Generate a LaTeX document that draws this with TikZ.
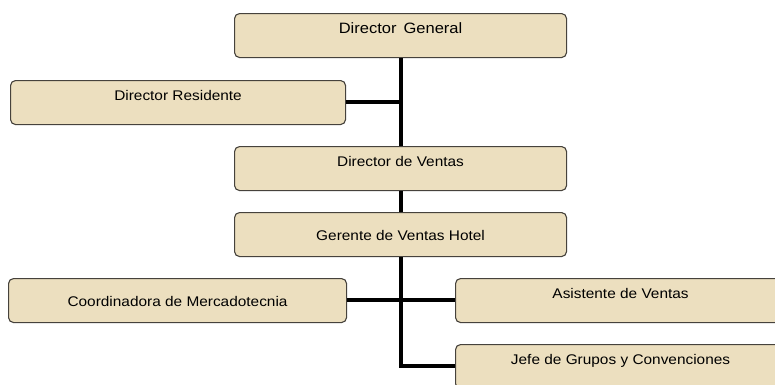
\documentclass[tikz,border=0pt]{standalone}
\usepackage{fontspec}
\setmainfont{Liberation Sans}[FakeStretch=1.1]
\definecolor{parch}{RGB}{236,223,191}
\definecolor{edge}{RGB}{70,66,60}
\begin{document}
\begin{tikzpicture}[x=1pt,y=-1pt,
  orgbox/.style={draw=edge, line width=1.1pt, fill=parch, rounded corners=5pt,
    inner sep=0pt, minimum width=#1, text height=19.5pt, text depth=24.5pt, font=\fontsize{14}{16}\selectfont},
  mid/.style={text height=28pt, text depth=16pt},
  conn/.style={line width=3.6pt}]
\clip (0,0) rectangle (775,384);
\fill[white] (0,0) rectangle (775,384);
\node[orgbox=332pt, anchor=north west, font=\fontsize{15}{17}\selectfont] (dg) at (234,13) {Director\, General};
\node[orgbox=335pt, anchor=north west] (dr) at (10,80) {Director Residente};
\node[orgbox=332pt, anchor=north west, text height=20pt, text depth=24pt] (dv) at (234,146) {Director de Ventas};
\node[orgbox=332pt, anchor=north west, mid] (gv) at (234,212) {Gerente de Ventas Hotel};
\node[orgbox=338pt, anchor=north west, mid] (cm) at (8,278) {Coordinadora de Mercadotecnia};
\node[orgbox=330pt, anchor=north west] (av) at (455,278) {Asistente de Ventas};
\node[orgbox=330pt, anchor=north west] (jg) at (455,344) {Jefe de Grupos y Convenciones};
\coordinate (t1) at (401,102);
\coordinate (t2) at (401,300);
\coordinate (t3) at (401,366);
\draw[conn] (dg.south -| t1) -- (dv.north -| t1);
\draw[conn] (dv.south -| t1) -- (gv.north -| t1);
\draw[conn] (dr.east |- t1) -- ([xshift=1.8pt]t1);
\draw[conn] (gv.south -| t2) -- (t3) -- (jg.west |- t3);
\draw[conn] (cm.east |- t2) -- (av.west |- t2);
\end{tikzpicture}
\end{document}
